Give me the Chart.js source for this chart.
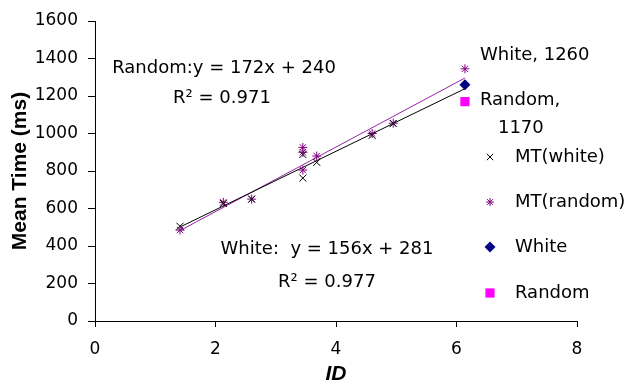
<!DOCTYPE html>
<html>
<head>
<meta charset="utf-8">
<script src="https://cdn.jsdelivr.net/npm/chart.js@4/dist/chart.umd.min.js"></script>
<style>
html,body{margin:0;padding:0;background:#fff;}
#wrap{width:629px;height:387px;}
</style>
</head>
<body>
<div id="wrap"><canvas id="c" width="629" height="387"></canvas></div>
<script>
// Data
const idWhite   = [1.41, 2.13, 2.60, 3.45, 3.45, 3.68, 4.60, 4.95];
const mtWhite   = [505, 627, 650, 888, 762, 846, 990, 1053];
const idRandom  = [1.41, 2.13, 2.60, 3.45, 3.45, 3.45, 3.68, 4.60, 4.95, 6.14];
const mtRandom  = [485, 633, 650, 926, 900, 805, 880, 1000, 1055, 1345];
const whitePoint  = [6.14, 1260];
const randomPoint = [6.14, 1170];
const whiteTrend  = [[1.41, 501], [6.14, 1239]];
const randomTrend = [[1.41, 482], [6.14, 1296]];
const xTicks = [0, 2, 4, 6, 8];
const yTicks = [0, 200, 400, 600, 800, 1000, 1200, 1400, 1600];
const legendLabels = ['MT(white)', 'MT(random)', 'White', 'Random'];
const eqRandom = ['Random:y = 172x + 240', 'R\u00B2 = 0.971'];
const eqWhite  = ['White:  y = 156x + 281', 'R\u00B2 = 0.977'];
const labelWhite  = 'White, 1260';
const labelRandom = ['Random,', '1170'];

const toPts = (xs, ys) => xs.map((x, i) => ({x: x, y: ys[i]}));
const pairPts = arr => arr.map(p => ({x: p[0], y: p[1]}));

const PURPLE = '#800080';
const LINEPURPLE = '#9922AA';
const NAVY = '#000080';
const MAGENTA = '#FF00FF';
const TXT = '18px "DejaVu Sans"';

const datasets = [
  {label: legendLabels[0], data: toPts(idWhite, mtWhite), pointStyle: 'crossRot', pointRadius: 5,
   borderColor: '#000', backgroundColor: '#000', pointBorderWidth: 1, showLine: false, order: 2},
  {label: legendLabels[1], data: toPts(idRandom, mtRandom), pointStyle: 'star', pointRadius: 4.5,
   borderColor: PURPLE, backgroundColor: PURPLE, pointBorderWidth: 1, showLine: false, order: 2},
  {label: legendLabels[2], data: [{x: whitePoint[0], y: whitePoint[1]}], pointStyle: 'rectRot', pointRadius: 5.5,
   borderColor: NAVY, backgroundColor: NAVY, pointBorderWidth: 0, showLine: false, order: 1},
  {label: legendLabels[3], data: [{x: randomPoint[0], y: randomPoint[1]}], pointStyle: 'rect', pointRadius: 6.5,
   borderColor: MAGENTA, backgroundColor: MAGENTA, pointBorderWidth: 0, showLine: false, order: 1},
  {label: 'trendWhite', data: pairPts(whiteTrend), showLine: true, pointRadius: 0, borderColor: '#000',
   borderWidth: 1, fill: false, order: 3},
  {label: 'trendRandom', data: pairPts(randomTrend), showLine: true, pointRadius: 0, borderColor: LINEPURPLE,
   borderWidth: 1, fill: false, order: 3}
];

const annotPlugin = {
  id: 'annot',
  afterDatasetsDraw(chart) {
    const ctx = chart.ctx;
    const xs = chart.scales.x, ys = chart.scales.y;
    ctx.save();
    ctx.fillStyle = '#000';
    ctx.font = TXT;
    ctx.textBaseline = 'middle';
    // equations
    ctx.textAlign = 'center';
    ctx.fillText(eqRandom[0], 224, 68);
    ctx.fillText(eqRandom[1], 222, 98);
    ctx.fillText(eqWhite[0], 327, 249);
    ctx.fillText(eqWhite[1], 327, 282);
    // data labels
    ctx.textAlign = 'left';
    const wx = xs.getPixelForValue(whitePoint[0]);
    const wy = ys.getPixelForValue(whitePoint[1]);
    ctx.fillText(labelWhite, wx + 15, wy - 29);
    const rx = xs.getPixelForValue(randomPoint[0]);
    const ry = ys.getPixelForValue(randomPoint[1]);
    ctx.fillText(labelRandom[0], rx + 15, ry - 1);
    ctx.fillText(labelRandom[1], rx + 33, ry + 27);
    // legend
    const lx = 490, tx = 515;
    const ly = [157, 202, 247, 293];
    const styles = [
      {s: 'crossRot', r: 4.5, c: '#000', w: 1},
      {s: 'star', r: 4, c: PURPLE, w: 1},
      {s: 'rectRot', r: 5.5, c: NAVY, w: 0},
      {s: 'rect', r: 6.5, c: MAGENTA, w: 0}
    ];
    styles.forEach((st, i) => {
      ctx.strokeStyle = st.c; ctx.fillStyle = st.c; ctx.lineWidth = st.w || 0.001;
      Chart.helpers.drawPoint(ctx, {pointStyle: st.s, radius: st.r, rotation: 0, borderWidth: st.w}, lx, ly[i]);
      ctx.fillStyle = '#000';
      ctx.fillText(legendLabels[i], tx, ly[i]);
    });
    ctx.restore();
  }
};

new Chart(document.getElementById('c'), {
  type: 'scatter',
  data: {datasets: datasets},
  options: {
    responsive: false,
    animation: false,
    devicePixelRatio: 1,
    layout: {padding: {left: 0, right: 52, top: 21, bottom: 0}},
    plugins: {legend: {display: false}, tooltip: {enabled: false}},
    scales: {
      x: {
        type: 'linear', min: 0, max: 8,
        afterBuildTicks: s => { s.ticks = xTicks.map(v => ({value: v})); },
        afterFit: s => { s.height = 66; },
        ticks: {color: '#000', font: {family: 'DejaVu Sans', size: 17}, padding: 12, maxRotation: 0,
          callback: v => String(v)},
        grid: {display: true, drawOnChartArea: false, drawTicks: true, tickLength: 6, color: '#000'},
        border: {display: true, color: '#000', width: 1},
        title: {display: true, text: 'ID', color: '#000',
          font: {family: 'Liberation Sans', size: 21, weight: 'bold', style: 'italic'}, padding: {top: 0, bottom: 0}}
      },
      y: {
        type: 'linear', min: 0, max: 1600,
        afterBuildTicks: s => { s.ticks = yTicks.map(v => ({value: v})); },
        afterFit: s => { s.width = 95; },
        ticks: {color: '#000', font: {family: 'DejaVu Sans', size: 17}, padding: 10,
          callback: v => String(v)},
        grid: {display: true, drawOnChartArea: false, drawTicks: true, tickLength: 7, color: '#000'},
        border: {display: true, color: '#000', width: 1},
        title: {display: true, text: 'Mean Time (ms)', color: '#000',
          font: {family: 'Liberation Sans', size: 21, weight: 'bold'}, padding: {top: 8, bottom: 0}}
      }
    }
  },
  plugins: [annotPlugin]
});
</script>
</body>
</html>
